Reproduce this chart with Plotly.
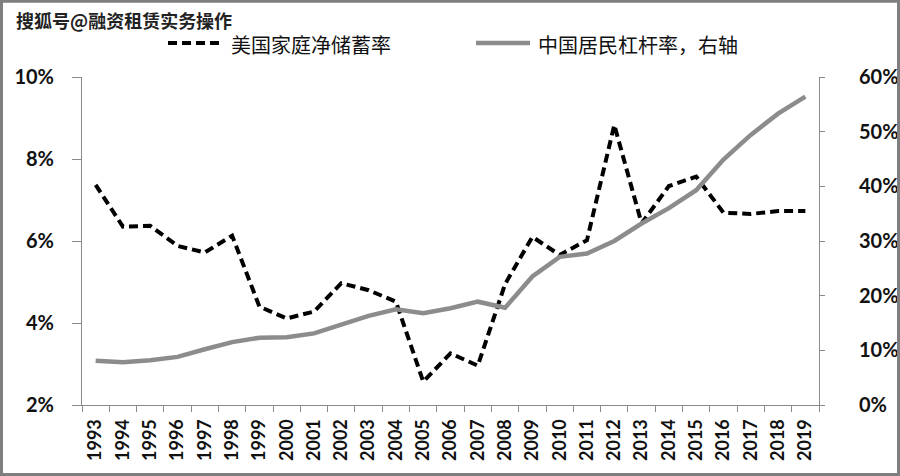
import plotly.graph_objects as go

years = [str(y) for y in range(1993, 2020)]
us_saving = [7.37, 6.35, 6.37, 5.88, 5.72, 6.13, 4.40, 4.11, 4.28, 4.97, 4.80, 4.52, 2.57,
             3.26, 2.96, 4.95, 6.10, 5.66, 6.02, 8.83, 6.43, 7.34, 7.57, 6.69, 6.66, 6.73, 6.73]
cn_leverage = [8.1, 7.8, 8.2, 8.8, 10.2, 11.5, 12.3, 12.4, 13.1, 14.8, 16.3, 17.5, 16.8,
               17.7, 18.9, 17.8, 23.5, 27.1, 27.7, 30.0, 33.2, 36.0, 39.3, 44.9, 49.4, 53.3, 56.4]

name_us = "美国家庭净储蓄率"
name_cn = "中国居民杠杆率，右轴"
watermark = "搜狐号@融资租赁实务操作"

W, H = 900, 476
L, R, T, B = 82, 81, 77, 71
PW, PH = W - L - R, H - T - B

def px(x):
    return (x - L) / PW

def py(y):
    return (H - B - y) / PH

AXC = "#8a8a8a"
GRAY = "#8c8c8c"

fig = go.Figure()
fig.add_trace(go.Scatter(x=years, y=[v / 100 for v in us_saving], mode="lines", name=name_us,
                         line=dict(color="black", width=4, dash="9px,5px"), yaxis="y", showlegend=False))
fig.add_trace(go.Scatter(x=years, y=[v / 100 for v in cn_leverage], mode="lines", name=name_cn,
                         line=dict(color=GRAY, width=4.5), yaxis="y2", showlegend=False))

tickfont_y = dict(family="Lato", size=20, color="#111", weight="bold")
fig.update_layout(
    width=W, height=H,
    margin=dict(l=L, r=R, t=T, b=B, autoexpand=False),
    paper_bgcolor="white", plot_bgcolor="white",
    xaxis=dict(type="category", range=[-0.5, 26.5], tickson="boundaries", ticks="outside",
               ticklen=6, tickcolor=AXC, showline=True, linecolor=AXC, linewidth=1,
               showgrid=False, tickangle=-90, ticklabelstandoff=6,
               tickfont=dict(family="Lato", size=18, color="#111", weight="bold"), automargin=False),
    yaxis=dict(range=[0.02, 0.10], dtick=0.02, tickformat=".0%", ticks="outside", ticklen=9,
               tickcolor=AXC, showline=True, linecolor=AXC, linewidth=1, showgrid=False,
               zeroline=False, tickfont=tickfont_y, ticklabelstandoff=14, automargin=False),
    yaxis2=dict(range=[0, 0.6], dtick=0.1, tickformat=".0%", overlaying="y", side="right",
                ticks="outside", ticklen=5, tickcolor=AXC, showline=True, linecolor=AXC,
                linewidth=1, showgrid=False, zeroline=False, tickfont=tickfont_y,
                ticklabelstandoff=30, automargin=False),
)

# manual legend
fig.add_shape(type="line", xref="paper", yref="paper", x0=px(168), x1=px(224), y0=py(43), y1=py(43),
              line=dict(color="black", width=4, dash="9px,5px"))
fig.add_annotation(xref="paper", yref="paper", x=px(229), y=py(45), text=name_us, showarrow=False,
                   xanchor="left", yanchor="middle",
                   font=dict(family="Noto Sans CJK SC", size=20, color="#111"))
fig.add_shape(type="line", xref="paper", yref="paper", x0=px(476), x1=px(530), y0=py(43), y1=py(43),
              line=dict(color=GRAY, width=4.5))
fig.add_annotation(xref="paper", yref="paper", x=px(536), y=py(45), text=name_cn, showarrow=False,
                   xanchor="left", yanchor="middle",
                   font=dict(family="Noto Sans CJK SC", size=20, color="#111"))

# watermark
fig.add_annotation(xref="paper", yref="paper", x=px(14), y=py(20), text=watermark, showarrow=False,
                   xanchor="left", yanchor="middle",
                   font=dict(family="Noto Sans CJK SC", size=18, color="#222", weight="bold"))

# image frame
fig.add_shape(type="rect", xref="paper", yref="paper", x0=px(1.5), x1=px(W - 1.5), y0=py(H - 1.5), y1=py(1.2),
              line=dict(color="#7f7f7f", width=3), layer="above")

fig.write_html("out.html")
